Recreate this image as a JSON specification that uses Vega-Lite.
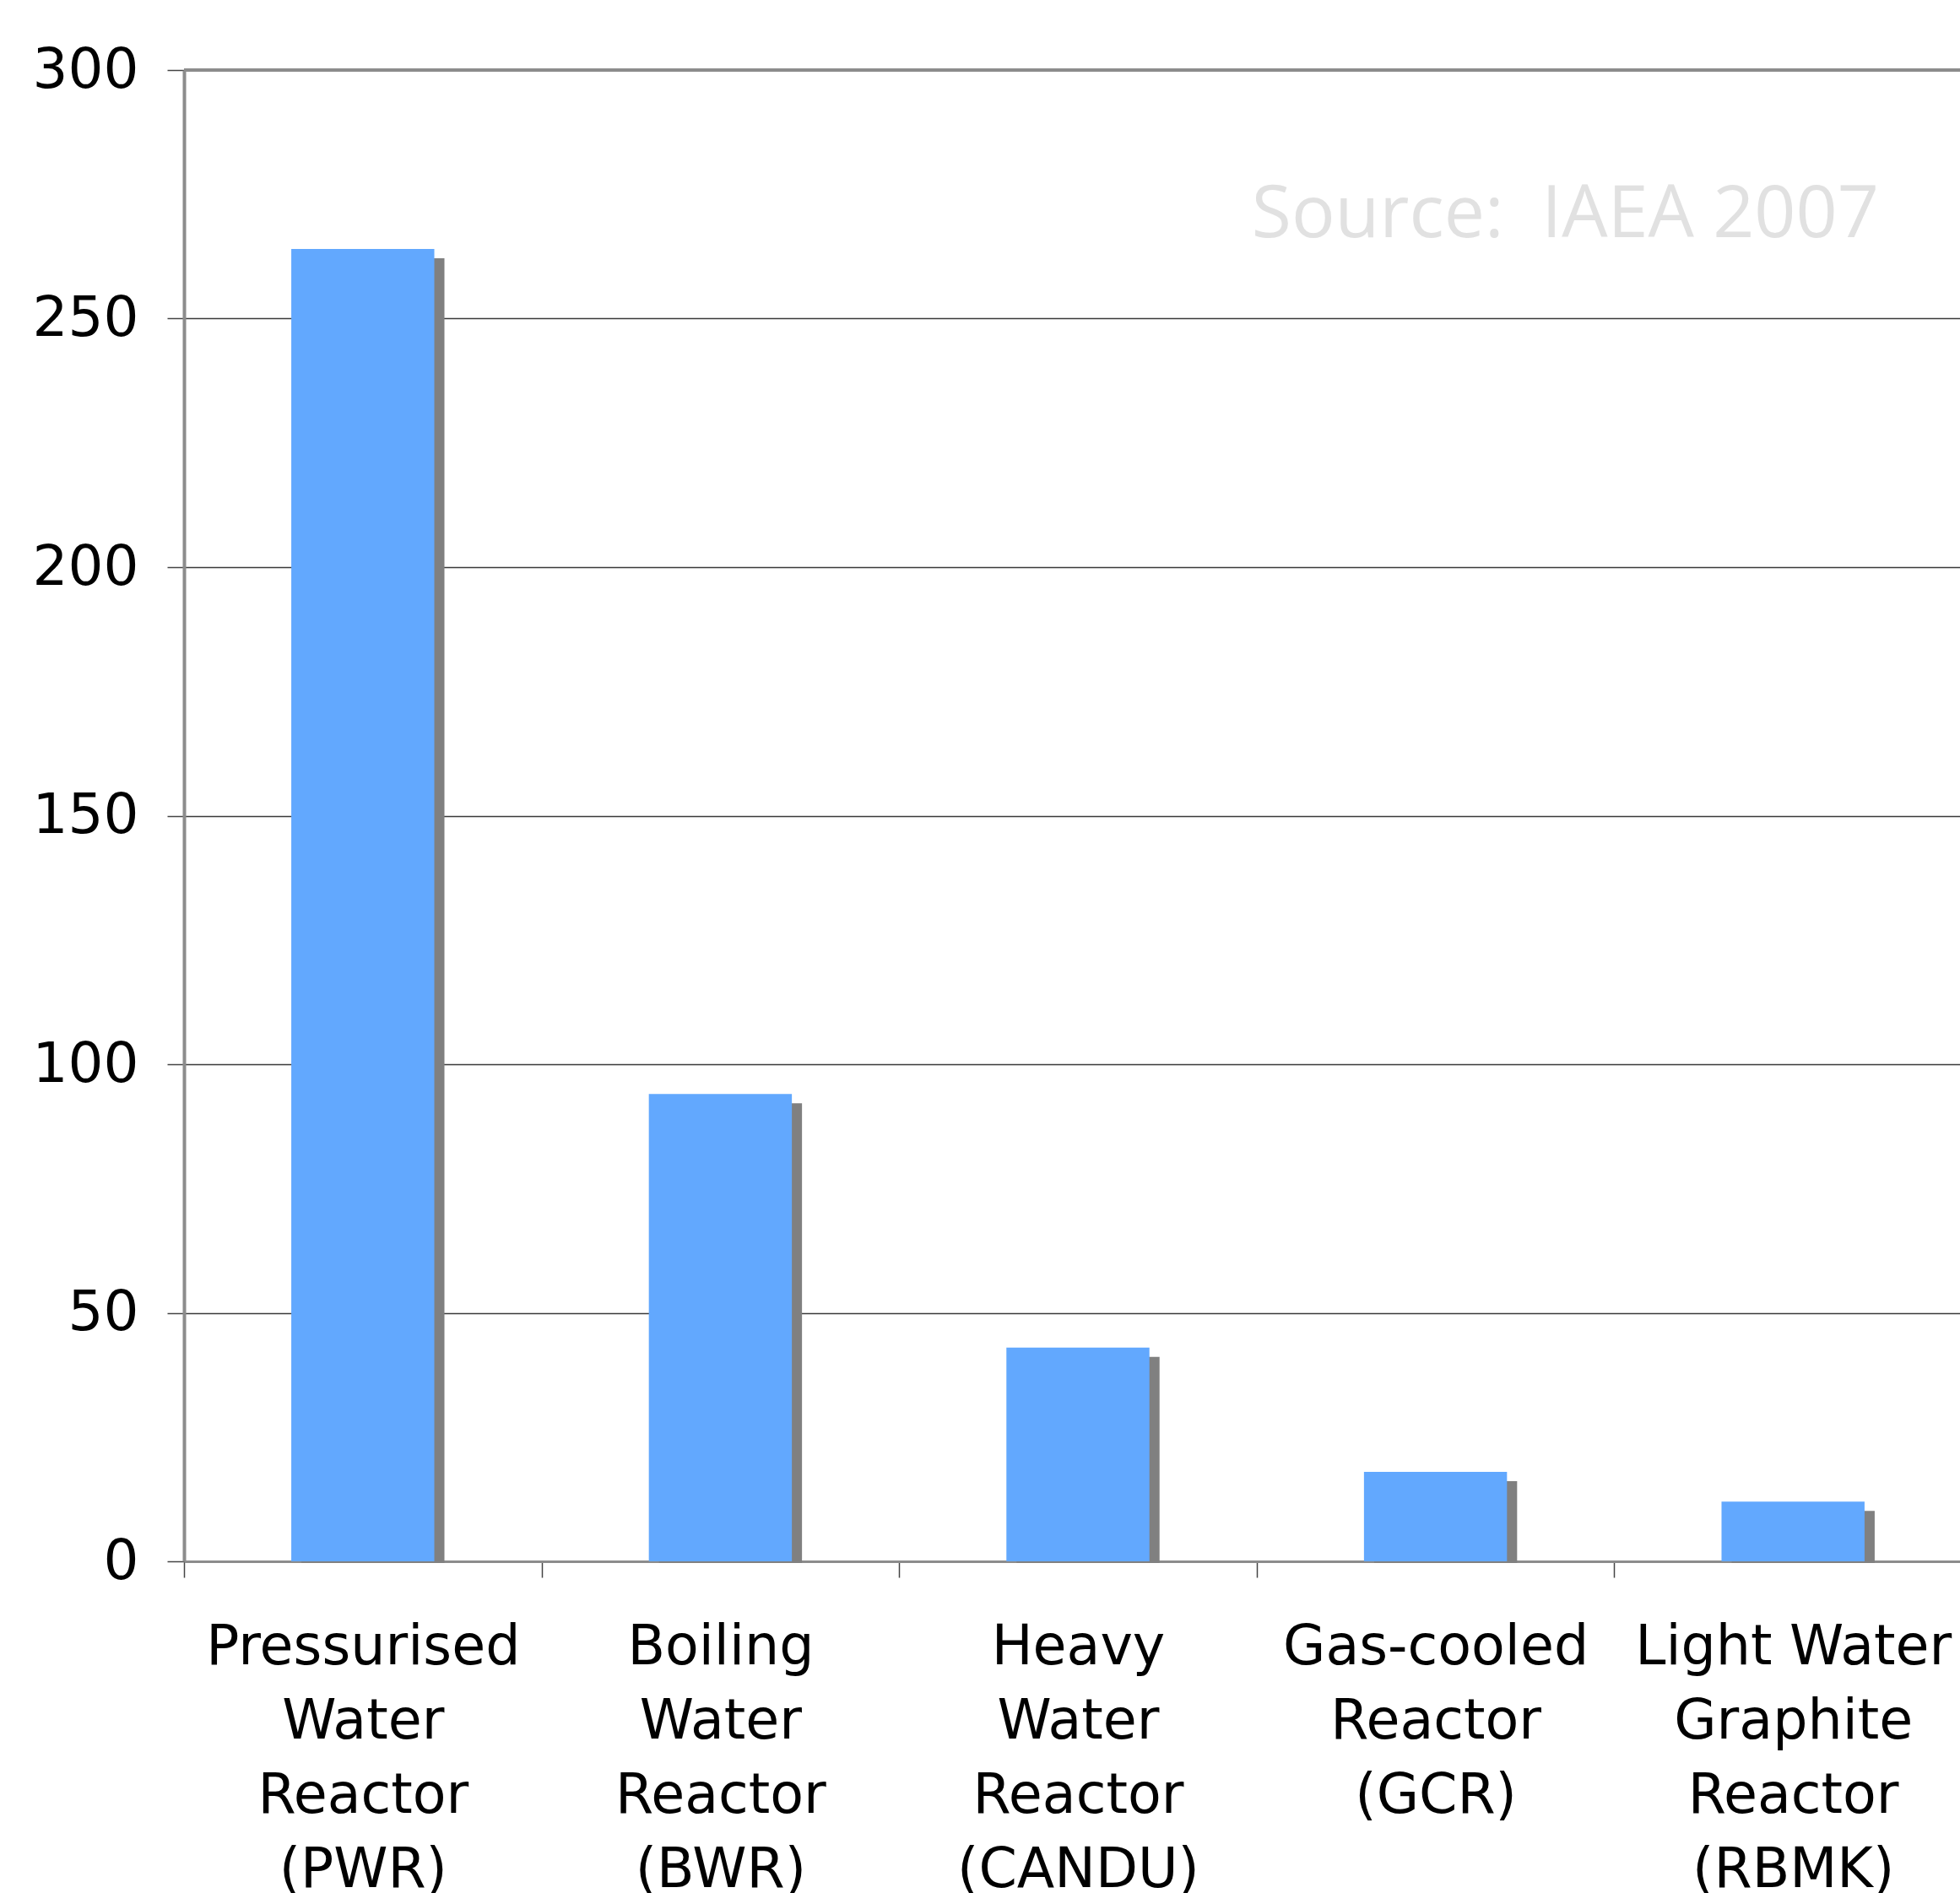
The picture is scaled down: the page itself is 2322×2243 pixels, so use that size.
{
  "$schema": "https://vega.github.io/schema/vega-lite/v6.json",
  "autosize": {"type": "none"},
  "width": 2104,
  "height": 1767,
  "padding": {"left": 218, "top": 83, "right": 0, "bottom": 393},
  "background": "white",
  "config": {"view": {"stroke": null}, "font": "DejaVu Sans"},
  "data": {
    "values": [
      {"type": "Pressurised Water Reactor (PWR)", "count": 264},
      {"type": "Boiling Water Reactor (BWR)", "count": 94},
      {"type": "Heavy Water Reactor (CANDU)", "count": 43},
      {"type": "Gas-cooled Reactor (GCR)", "count": 18},
      {"type": "Light\u00a0Water Graphite Reactor (RBMK)", "count": 12}
    ]
  },
  "layer": [
    {
      "mark": {"type": "bar", "color": "#808080", "width": {"band": 0.4}, "xOffset": 12, "yOffset": 11, "y2Offset": 2},
      "encoding": {
        "x": {
          "field": "type", "type": "nominal", "sort": null,
          "scale": {"range": [0, 2118], "paddingInner": 0, "paddingOuter": 0},
          "axis": {
            "title": null, "labelAngle": 0, "tickBand": "extent", "tickSize": 19,
            "tickColor": "#444444", "tickWidth": 1.5, "domainColor": "#8c8c8c", "domainWidth": 3,
            "labelFont": "DejaVu Sans", "labelFontSize": 65, "labelColor": "#000000",
            "labelLineHeight": 88, "labelBaseline": "alphabetic", "labelPadding": 102,
            "labelLimit": 2000, "labelOverlap": false, "labelBound": false, "labelFlush": false,
            "labelExpr": "isValid(datum.value) ? split(datum.value, ' ') : ''"
          }
        },
        "y": {
          "field": "count", "type": "quantitative", "stack": null,
          "scale": {"domain": [0, 300], "nice": false},
          "axis": {
            "title": null, "values": [0, 50, 100, 150, 200, 250, 300], "grid": true,
            "gridColor": "#3a3a3a", "gridWidth": 1.5, "domainColor": "#8c8c8c", "domainWidth": 4,
            "tickColor": "#444444", "tickWidth": 1.5, "tickSize": 20, "labelPadding": 34,
            "labelFont": "DejaVu Sans", "labelFontSize": 66, "labelColor": "#000000"
          }
        },
        "y2": {"datum": 0}
      }
    },
    {
      "mark": {"type": "bar", "color": "#62A8FE", "width": {"band": 0.4}},
      "encoding": {
        "x": {"field": "type", "type": "nominal", "sort": null},
        "y": {"field": "count", "type": "quantitative"}
      }
    },
    {
      "data": {"values": [{"edge": 300}]},
      "mark": {"type": "rule", "color": "#8c8c8c", "strokeWidth": 4},
      "encoding": {"y": {"field": "edge", "type": "quantitative"}}
    },
    {
      "data": {"values": [{"note": "Source:\u00a0 IAEA 2007"}]},
      "mark": {"type": "text", "font": "Open Sans", "fontSize": 86, "color": "#E1E1E1", "align": "right", "baseline": "alphabetic"},
      "encoding": {
        "x": {"datum": "Light\u00a0Water Graphite Reactor (RBMK)", "type": "nominal", "bandPosition": 0.74},
        "y": {"datum": 266.4, "type": "quantitative"},
        "text": {"field": "note"}
      }
    }
  ]
}
